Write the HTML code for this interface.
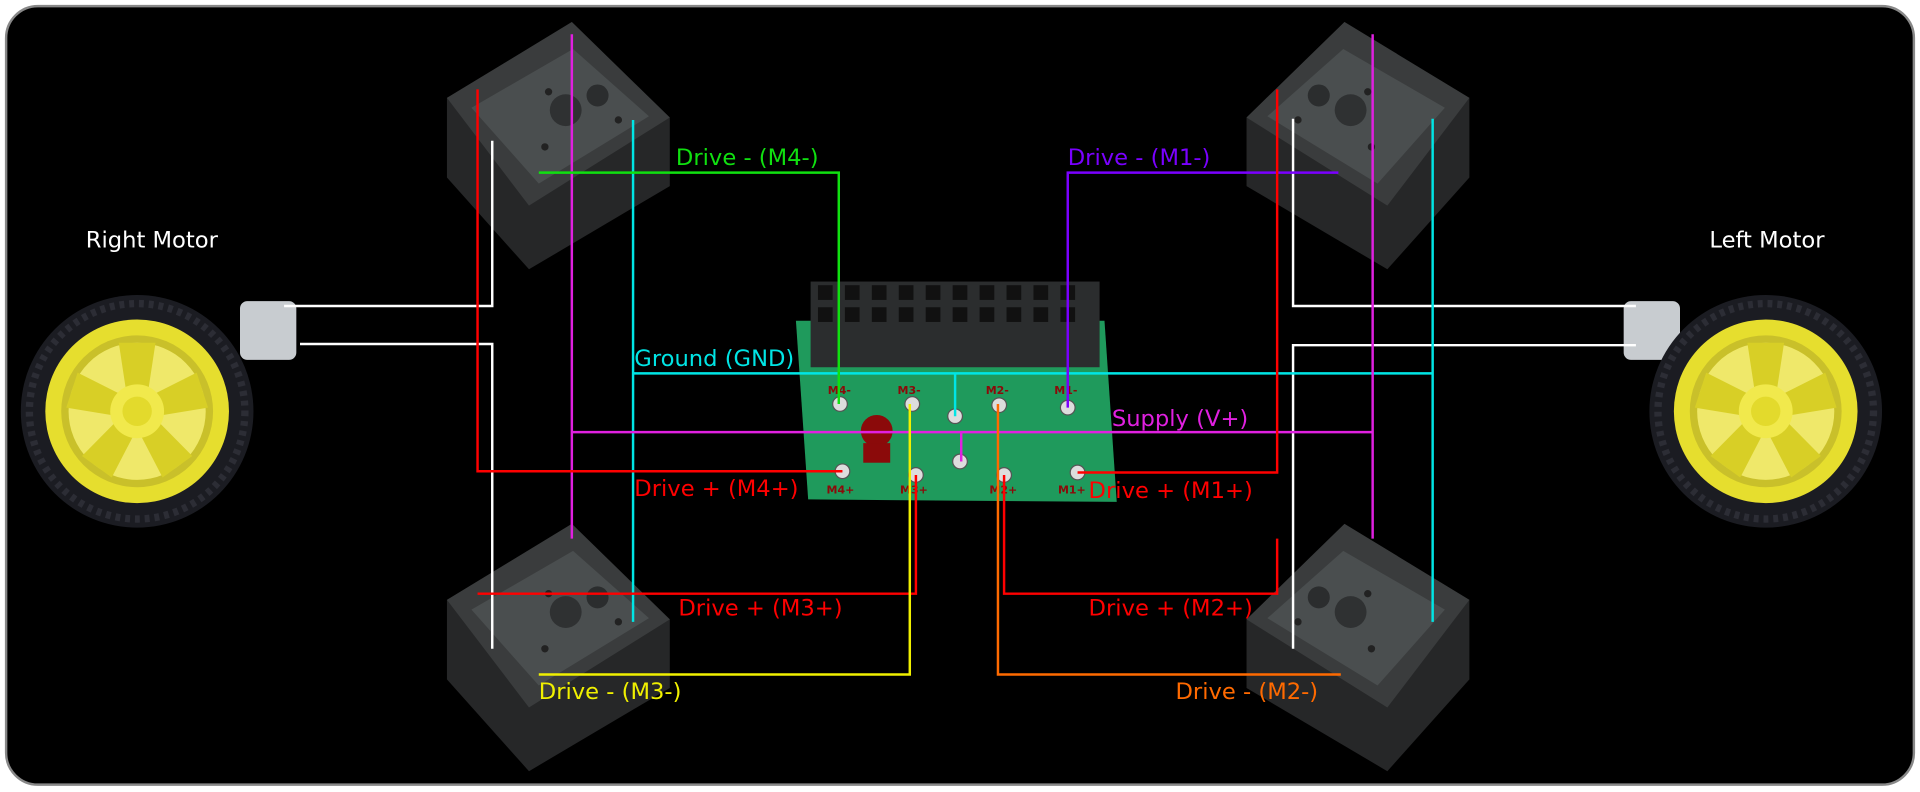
<!DOCTYPE html>
<html><head><meta charset="utf-8"><style>
html,body{margin:0;padding:0;background:#fff;width:1920px;height:792px;overflow:hidden}
svg{display:block}
text{font-family:"DejaVu Sans","Liberation Sans",sans-serif;font-size:18.5px}
</style></head><body>
<svg width="1920" height="792" viewBox="0 0 1568 647" preserveAspectRatio="none">
<defs>
<g id="relay">
<polygon points="467,18 547,96 547,152 432,220 365,145 365,80" fill="#262728"/>
<polygon points="467,18 547,96 432,168 365,80" fill="#3a3c3d"/>
<polygon points="468,40 530,95 440,150 385,88" fill="#4a4e4f"/>
<circle cx="488" cy="78" r="9" fill="#2b2d2e"/><circle cx="462" cy="90" r="13" fill="#2f3132"/>
<circle cx="448" cy="75" r="3" fill="#222"/><circle cx="505" cy="98" r="3" fill="#222"/><circle cx="445" cy="120" r="3" fill="#222"/>
</g>
<g id="wheel">
<circle cx="0" cy="0" r="95" fill="#1b1c22"/>
<circle cx="0" cy="0" r="88" fill="none" stroke="#2c2d35" stroke-width="6" stroke-dasharray="4 4"/>
<circle cx="0" cy="0" r="75" fill="#e6de2e"/>
<circle cx="0" cy="0" r="62" fill="#c9c02a"/>
<circle cx="0" cy="0" r="56" fill="#efe86a"/>
<g fill="#d8cf26">
<path d="M-8,-10 L-15,-56 L15,-56 L8,-10Z"/>
<path d="M-8,-10 L-15,-56 L15,-56 L8,-10Z" transform="rotate(72)"/>
<path d="M-8,-10 L-15,-56 L15,-56 L8,-10Z" transform="rotate(144)"/>
<path d="M-8,-10 L-15,-56 L15,-56 L8,-10Z" transform="rotate(216)"/>
<path d="M-8,-10 L-15,-56 L15,-56 L8,-10Z" transform="rotate(288)"/>
</g>
<circle cx="0" cy="0" r="22" fill="#f1e94c"/><circle cx="0" cy="0" r="12" fill="#e3da2c"/>
</g>
</defs>
<rect x="5" y="5" width="1558" height="636" rx="26" fill="#000" stroke="#888" stroke-width="2"/>

<!-- relays -->
<use href="#relay"/>
<use href="#relay" transform="translate(1565,0) scale(-1,1)"/>
<use href="#relay" transform="translate(0,410)"/>
<use href="#relay" transform="translate(1565,410) scale(-1,1)"/>

<!-- wheels -->
<rect x="196" y="246" width="46" height="48" rx="6" fill="#c8ccd0"/>
<use href="#wheel" transform="translate(112,336)"/>
<rect x="1326" y="246" width="46" height="48" rx="6" fill="#c8ccd0"/>
<use href="#wheel" transform="translate(1442,336)"/>

<!-- board -->
<polygon points="650,262 902,262 912,410 660,408" fill="#1f9a5c"/>
<rect x="662" y="230" width="236" height="70" fill="#2b2d2e"/>
<g fill="#111">
<rect x="668" y="233" width="12" height="12"/><rect x="690" y="233" width="12" height="12"/><rect x="712" y="233" width="12" height="12"/><rect x="734" y="233" width="12" height="12"/><rect x="756" y="233" width="12" height="12"/><rect x="778" y="233" width="12" height="12"/><rect x="800" y="233" width="12" height="12"/><rect x="822" y="233" width="12" height="12"/><rect x="844" y="233" width="12" height="12"/><rect x="866" y="233" width="12" height="12"/>
<rect x="668" y="251" width="12" height="12"/><rect x="690" y="251" width="12" height="12"/><rect x="712" y="251" width="12" height="12"/><rect x="734" y="251" width="12" height="12"/><rect x="756" y="251" width="12" height="12"/><rect x="778" y="251" width="12" height="12"/><rect x="800" y="251" width="12" height="12"/><rect x="822" y="251" width="12" height="12"/><rect x="844" y="251" width="12" height="12"/><rect x="866" y="251" width="12" height="12"/>
</g>
<g fill="#ddd" stroke="#555" stroke-width="1">
<circle cx="686" cy="330" r="6"/><circle cx="745" cy="330" r="6"/><circle cx="780" cy="340" r="6"/><circle cx="816" cy="331" r="6"/><circle cx="872" cy="333" r="6"/>
<circle cx="784" cy="377" r="6"/><circle cx="688" cy="385" r="6"/><circle cx="748" cy="388" r="6"/><circle cx="820" cy="388" r="6"/><circle cx="880" cy="386" r="6"/>
</g>
<circle cx="716" cy="352" r="13" fill="#8b0a0a"/><rect x="705" y="362" width="22" height="16" fill="#8b0a0a"/>
<g fill="#8b0a0a" style="font-weight:bold">
<text x="676" y="322" style="font-size:9px">M4-</text><text x="733" y="322" style="font-size:9px">M3-</text><text x="805" y="322" style="font-size:9px">M2-</text><text x="861" y="322" style="font-size:9px">M1-</text>
<text x="675" y="403" style="font-size:9px">M4+</text><text x="735" y="403" style="font-size:9px">M3+</text><text x="808" y="403" style="font-size:9px">M2+</text><text x="864" y="403" style="font-size:9px">M1+</text>
</g>

<!-- wires -->
<g fill="none" stroke-width="2">
<path d="M232,250 H402 V115 M245,281 H402 V530" stroke="#fff"/>
<path d="M1336,250 H1056 V97 M1336,282 H1056 V530" stroke="#fff"/>
<path d="M517,98 V508 M1170,97 V508 M517,305 H1170 M780,305 V340" stroke="#00e5e5"/>
<path d="M467,28 V440 M1121,28 V440 M467,353 H1121 M785,353 V377" stroke="#e020e0"/>
<path d="M440,141 H685 V330" stroke="#10e010"/>
<path d="M1093,141 H872 V333" stroke="#7a00ff"/>
<path d="M688,385 H390 V73 M880,386 H1043 V73" stroke="#ff0000"/>
<path d="M748,388 V485 H390 M820,388 V485 H1043 V440" stroke="#ff0000"/>
<path d="M743,330 V551 H440" stroke="#f0f000"/>
<path d="M815,330 V551 H1095" stroke="#ff6a00"/>
</g>

<!-- labels -->
<text x="124" y="202" fill="#fff" text-anchor="middle">Right Motor</text>
<text x="1443" y="202" fill="#fff" text-anchor="middle">Left Motor</text>
<text x="552" y="135" fill="#10e010">Drive - (M4-)</text>
<text x="872" y="135" fill="#7a00ff">Drive - (M1-)</text>
<text x="518" y="299" fill="#00e5e5">Ground (GND)</text>
<text x="908" y="348" fill="#e020e0">Supply (V+)</text>
<text x="518" y="405" fill="#ff0000">Drive + (M4+)</text>
<text x="889" y="407" fill="#ff0000">Drive + (M1+)</text>
<text x="554" y="503" fill="#ff0000">Drive + (M3+)</text>
<text x="889" y="503" fill="#ff0000">Drive + (M2+)</text>
<text x="440" y="571" fill="#f0f000">Drive - (M3-)</text>
<text x="960" y="571" fill="#ff6a00">Drive - (M2-)</text>
</svg>
</body></html>
